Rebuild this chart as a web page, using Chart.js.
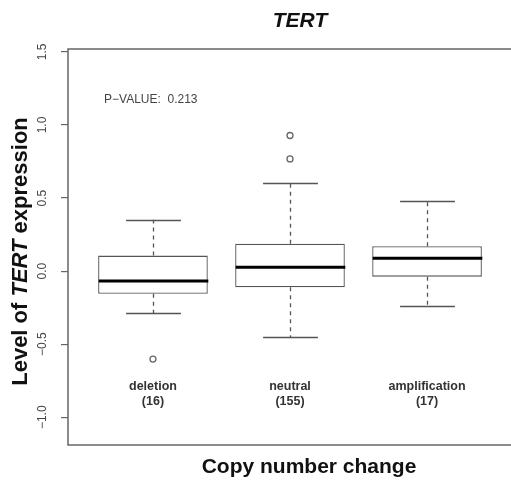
<!DOCTYPE html>
<html>
<head>
<meta charset="utf-8">
<title>TERT</title>
<script src="https://cdn.jsdelivr.net/npm/chart.js@4/dist/chart.umd.min.js"></script>
<style>
    html, body { margin: 0; padding: 0; background: #fff; overflow: hidden; }
    #wrap { width: 520px; height: 483px; }
</style>
</head>
<body>
<div id="wrap"><canvas id="boxChart" width="520" height="483"></canvas></div>
<script>
// Copy number groups
const categories = ['deletion', 'neutral', 'amplification'];
const groupSizes = [16, 155, 17];

// Box statistics per group
const lowerWhisker = [-0.287, -0.452, -0.241];
const q1 = [-0.155, -0.111, -0.038];
const median = [-0.068, 0.026, 0.088];
const q3 = [0.106, 0.188, 0.170];
const upperWhisker = [0.352, 0.606, 0.478];

// Outliers as [group index, value]
const outliers = [[0, -0.602], [1, 0.928], [1, 0.768]];

// Y axis ticks
const yTicks = [-1.0, -0.5, 0.0, 0.5, 1.0, 1.5];
const yTickLabels = ['\u22121.0', '\u22120.5', '0.0', '0.5', '1.0', '1.5'];

const pValue = '0.213';
const geneName = 'TERT';

const FONT = '"Liberation Sans", Arial, Helvetica, sans-serif';
const BOX_COLOR = '#555';

// Whiskers, caps, medians and the frame
const boxExtras = {
    id: 'boxExtras',
    afterDatasetsDraw(chart) {
        const { ctx, chartArea, scales: { x, y } } = chart;
        const capHalf = x.getPixelForValue(1.2) - x.getPixelForValue(1);
        const boxHalf = x.getPixelForValue(1.4) - x.getPixelForValue(1);
        ctx.save();
        categories.forEach((c, i) => {
            const cx = Math.round(x.getPixelForValue(i + 1)) + 0.5;
            ctx.strokeStyle = BOX_COLOR;
            ctx.lineWidth = 1.3;
            // dashed whiskers
            ctx.setLineDash([4, 4]);
            ctx.beginPath();
            ctx.moveTo(cx, y.getPixelForValue(q3[i]));
            ctx.lineTo(cx, y.getPixelForValue(upperWhisker[i]));
            ctx.moveTo(cx, y.getPixelForValue(q1[i]));
            ctx.lineTo(cx, y.getPixelForValue(lowerWhisker[i]));
            ctx.stroke();
            // caps
            ctx.setLineDash([]);
            ctx.beginPath();
            [upperWhisker[i], lowerWhisker[i]].forEach(v => {
                const py = Math.round(y.getPixelForValue(v)) + 0.5;
                ctx.moveTo(cx - capHalf, py);
                ctx.lineTo(cx + capHalf, py);
            });
            ctx.stroke();
            // median
            ctx.strokeStyle = '#000';
            ctx.lineWidth = 3;
            ctx.beginPath();
            const my = y.getPixelForValue(median[i]);
            ctx.moveTo(cx - boxHalf, my);
            ctx.lineTo(cx + boxHalf, my);
            ctx.stroke();
        });
        // frame
        ctx.strokeStyle = '#666';
        ctx.lineWidth = 1.5;
        ctx.strokeRect(chartArea.left, chartArea.top, chartArea.right - chartArea.left, chartArea.bottom - chartArea.top);
        ctx.restore();
    }
};

// Titles and annotations
const chartTexts = {
    id: 'chartTexts',
    afterDraw(chart) {
        const { ctx, scales: { x } } = chart;
        ctx.save();
        ctx.fillStyle = '#111';

        // main title
        ctx.font = 'italic bold 21px ' + FONT;
        ctx.textAlign = 'center';
        ctx.textBaseline = 'alphabetic';
        ctx.fillText(geneName, 300, 27);

        // x axis title
        ctx.font = 'bold 21px ' + FONT;
        ctx.fillText('Copy number change', 309, 473);

        // y axis title, gene name in italics
        const parts = [
            ['Level of ', 'bold 22px ' + FONT],
            [geneName, 'italic bold 22px ' + FONT],
            [' expression', 'bold 22px ' + FONT]
        ];
        let total = 0;
        const widths = parts.map(p => { ctx.font = p[1]; const w = ctx.measureText(p[0]).width; total += w; return w; });
        ctx.translate(27, 251.5);
        ctx.rotate(-Math.PI / 2);
        ctx.textAlign = 'left';
        let pos = -total / 2;
        parts.forEach((p, k) => {
            ctx.font = p[1];
            ctx.fillText(p[0], pos, 0);
            pos += widths[k];
        });
        ctx.setTransform(1, 0, 0, 1, 0, 0);

        // p-value
        ctx.fillStyle = '#444';
        ctx.font = '12px ' + FONT;
        ctx.textAlign = 'left';
        ctx.textBaseline = 'middle';
        ctx.fillText('P\u2212VALUE:  ' + pValue, 104, 100);

        // group labels with sizes
        ctx.fillStyle = '#333';
        ctx.font = 'bold 12.5px ' + FONT;
        ctx.textAlign = 'center';
        categories.forEach((c, i) => {
            const cx = x.getPixelForValue(i + 1);
            ctx.fillText(c, cx, 387);
            ctx.fillText('(' + groupSizes[i] + ')', cx, 402);
        });
        ctx.restore();
    }
};

const ctx = document.getElementById('boxChart');
new Chart(ctx, {
    type: 'bar',
    data: {
        datasets: [
            {
                type: 'bar',
                label: 'IQR',
                data: categories.map((c, i) => ({ x: i + 1, y: [q1[i], q3[i]] })),
                backgroundColor: '#fff',
                borderColor: BOX_COLOR,
                borderWidth: 1.3,
                borderSkipped: false,
                barPercentage: 0.8,
                categoryPercentage: 1.0
            },
            {
                type: 'scatter',
                label: 'Outliers',
                data: outliers.map(o => ({ x: o[0] + 1, y: o[1] })),
                pointStyle: 'circle',
                pointRadius: 3,
                pointBackgroundColor: '#fff',
                pointBorderColor: '#666',
                pointBorderWidth: 1.3
            }
        ]
    },
    options: {
        responsive: false,
        animation: false,
        events: [],
        layout: {
            padding: { left: 0, top: 49, right: 8, bottom: 38 }
        },
        plugins: {
            legend: { display: false },
            title: { display: false },
            tooltip: { enabled: false }
        },
        scales: {
            x: {
                type: 'linear',
                display: false,
                offset: false,
                min: 0.38,
                max: 3.62,
                afterBuildTicks(axis) {
                    axis.ticks = categories.map((c, i) => ({ value: i + 1 }));
                }
            },
            y: {
                min: -1.19,
                max: 1.52,
                border: { display: false },
                grid: {
                    drawOnChartArea: false,
                    drawTicks: true,
                    tickLength: 7,
                    color: '#666',
                    lineWidth: 1.2
                },
                afterBuildTicks(axis) {
                    axis.ticks = yTicks.map(v => ({ value: v }));
                },
                afterFit(axis) {
                    axis.width = 68;
                },
                ticks: {
                    minRotation: 90,
                    maxRotation: 90,
                    crossAlign: 'center',
                    padding: 6,
                    color: '#444',
                    font: { family: FONT, size: 12 },
                    callback(value) {
                        const k = yTicks.indexOf(value);
                        return k >= 0 ? yTickLabels[k] : '';
                    }
                }
            }
        }
    },
    plugins: [boxExtras, chartTexts]
});
</script>
</body>
</html>
